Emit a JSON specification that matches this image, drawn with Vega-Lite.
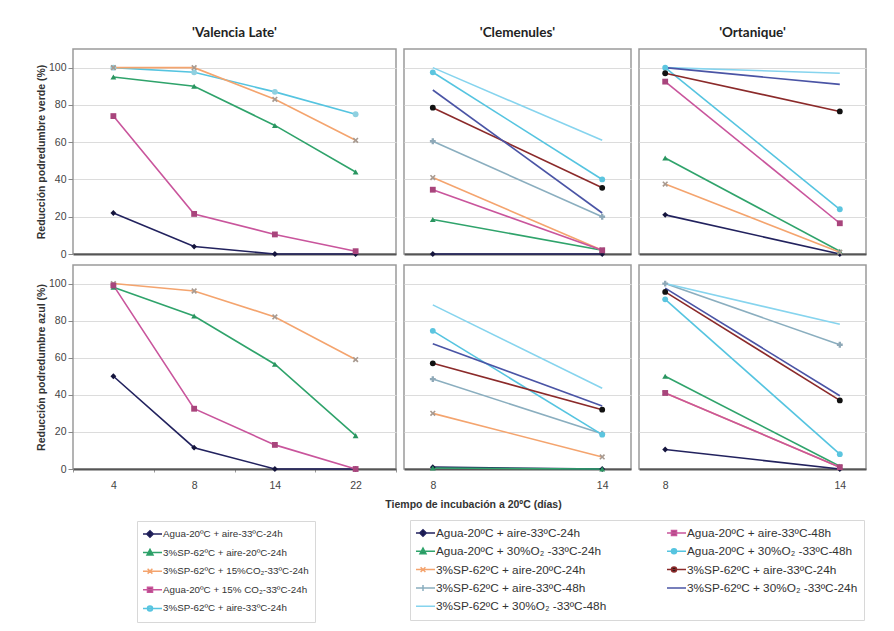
{
  "$schema": "https://vega.github.io/schema/vega-lite/v6.json",
  "padding": {"left": 35, "top": 24, "right": 5, "bottom": 5},
  "background": "white",
  "bounds": "flush",
  "columns": 3,
  "spacing": {"row": 11, "column": 8},
  "config": {
    "font": "Liberation Sans",
    "view": {"stroke": "#9a9a9a", "strokeWidth": 1.5},
    "axis": {"gridColor": "#dcdcdc", "gridWidth": 1, "labelFont": "Liberation Sans", "labelColor": "#444", "labelFontSize": 10.5, "titleFont": "Liberation Sans", "titleColor": "#333", "domainColor": "#555", "tickColor": "#888"},
    "axisY": {"domain": false, "grid": true, "tickSize": 5, "labelPadding": 2, "titleFontWeight": "bold", "titleFontSize": 10.5, "titlePadding": 2},
    "axisX": {"domainColor": "#555", "domainWidth": 2, "labelAngle": 0, "grid": false},
    "title": {"font": "Lato", "fontSize": 13.5, "fontWeight": "bold", "color": "#222", "offset": 10},
    "legend": {"labelFont": "Liberation Sans", "labelColor": "#333", "labelLimit": 400, "symbolSize": 144, "symbolStrokeWidth": 1.5, "labelOffset": 6, "padding": 6, "strokeColor": "#d8d8d8", "clipHeight": 14}
  },
  "datasets": {
    "vl_verde": [
      {"serie": "Agua-20ºC + aire-33ºC-24h", "dias": 4, "valor": 22},
      {"serie": "Agua-20ºC + aire-33ºC-24h", "dias": 8, "valor": 4},
      {"serie": "Agua-20ºC + aire-33ºC-24h", "dias": 14, "valor": 0},
      {"serie": "Agua-20ºC + aire-33ºC-24h", "dias": 22, "valor": 0},
      {"serie": "3%SP-62ºC + aire-20ºC-24h", "dias": 4, "valor": 95},
      {"serie": "3%SP-62ºC + aire-20ºC-24h", "dias": 8, "valor": 90},
      {"serie": "3%SP-62ºC + aire-20ºC-24h", "dias": 14, "valor": 69},
      {"serie": "3%SP-62ºC + aire-20ºC-24h", "dias": 22, "valor": 44},
      {"serie": "3%SP-62ºC + aire-33ºC-24h", "dias": 4, "valor": 100},
      {"serie": "3%SP-62ºC + aire-33ºC-24h", "dias": 8, "valor": 97.5},
      {"serie": "3%SP-62ºC + aire-33ºC-24h", "dias": 14, "valor": 87},
      {"serie": "3%SP-62ºC + aire-33ºC-24h", "dias": 22, "valor": 75},
      {"serie": "3%SP-62ºC + 15%CO₂-33ºC-24h", "dias": 4, "valor": 100},
      {"serie": "3%SP-62ºC + 15%CO₂-33ºC-24h", "dias": 8, "valor": 100},
      {"serie": "3%SP-62ºC + 15%CO₂-33ºC-24h", "dias": 14, "valor": 83},
      {"serie": "3%SP-62ºC + 15%CO₂-33ºC-24h", "dias": 22, "valor": 61},
      {"serie": "Agua-20ºC + 15% CO₂-33ºC-24h", "dias": 4, "valor": 74},
      {"serie": "Agua-20ºC + 15% CO₂-33ºC-24h", "dias": 8, "valor": 21.5},
      {"serie": "Agua-20ºC + 15% CO₂-33ºC-24h", "dias": 14, "valor": 10.5},
      {"serie": "Agua-20ºC + 15% CO₂-33ºC-24h", "dias": 22, "valor": 1.5}
    ],
    "vl_azul": [
      {"serie": "Agua-20ºC + aire-33ºC-24h", "dias": 4, "valor": 50},
      {"serie": "Agua-20ºC + aire-33ºC-24h", "dias": 8, "valor": 11.5},
      {"serie": "Agua-20ºC + aire-33ºC-24h", "dias": 14, "valor": 0},
      {"serie": "Agua-20ºC + aire-33ºC-24h", "dias": 22, "valor": 0},
      {"serie": "3%SP-62ºC + aire-20ºC-24h", "dias": 4, "valor": 98},
      {"serie": "3%SP-62ºC + aire-20ºC-24h", "dias": 8, "valor": 82.5},
      {"serie": "3%SP-62ºC + aire-20ºC-24h", "dias": 14, "valor": 56.5},
      {"serie": "3%SP-62ºC + aire-20ºC-24h", "dias": 22, "valor": 18},
      {"serie": "3%SP-62ºC + 15%CO₂-33ºC-24h", "dias": 4, "valor": 100},
      {"serie": "3%SP-62ºC + 15%CO₂-33ºC-24h", "dias": 8, "valor": 96},
      {"serie": "3%SP-62ºC + 15%CO₂-33ºC-24h", "dias": 14, "valor": 82},
      {"serie": "3%SP-62ºC + 15%CO₂-33ºC-24h", "dias": 22, "valor": 59},
      {"serie": "Agua-20ºC + 15% CO₂-33ºC-24h", "dias": 4, "valor": 99},
      {"serie": "Agua-20ºC + 15% CO₂-33ºC-24h", "dias": 8, "valor": 32.5},
      {"serie": "Agua-20ºC + 15% CO₂-33ºC-24h", "dias": 14, "valor": 13},
      {"serie": "Agua-20ºC + 15% CO₂-33ºC-24h", "dias": 22, "valor": 0}
    ],
    "cl_verde": [
      {"serie": "Agua-20ºC + aire-33ºC-24h", "dias": 8, "valor": 0},
      {"serie": "Agua-20ºC + aire-33ºC-24h", "dias": 14, "valor": 0},
      {"serie": "Agua-20ºC + 30%O₂ -33ºC-24h", "dias": 8, "valor": 18.5},
      {"serie": "Agua-20ºC + 30%O₂ -33ºC-24h", "dias": 14, "valor": 2},
      {"serie": "3%SP-62ºC + aire-20ºC-24h", "dias": 8, "valor": 41},
      {"serie": "3%SP-62ºC + aire-20ºC-24h", "dias": 14, "valor": 2},
      {"serie": "3%SP-62ºC + aire-33ºC-48h", "dias": 8, "valor": 60.5},
      {"serie": "3%SP-62ºC + aire-33ºC-48h", "dias": 14, "valor": 20},
      {"serie": "3%SP-62ºC + 30%O₂ -33ºC-48h", "dias": 8, "valor": 100},
      {"serie": "3%SP-62ºC + 30%O₂ -33ºC-48h", "dias": 14, "valor": 61},
      {"serie": "Agua-20ºC + aire-33ºC-48h", "dias": 8, "valor": 34.5},
      {"serie": "Agua-20ºC + aire-33ºC-48h", "dias": 14, "valor": 2},
      {"serie": "Agua-20ºC + 30%O₂ -33ºC-48h", "dias": 8, "valor": 97.5},
      {"serie": "Agua-20ºC + 30%O₂ -33ºC-48h", "dias": 14, "valor": 40},
      {"serie": "3%SP-62ºC + aire-33ºC-24h", "dias": 8, "valor": 78.5},
      {"serie": "3%SP-62ºC + aire-33ºC-24h", "dias": 14, "valor": 35.5},
      {"serie": "3%SP-62ºC + 30%O₂ -33ºC-24h", "dias": 8, "valor": 88},
      {"serie": "3%SP-62ºC + 30%O₂ -33ºC-24h", "dias": 14, "valor": 22}
    ],
    "or_verde": [
      {"serie": "Agua-20ºC + aire-33ºC-24h", "dias": 8, "valor": 21},
      {"serie": "Agua-20ºC + aire-33ºC-24h", "dias": 14, "valor": 0},
      {"serie": "Agua-20ºC + 30%O₂ -33ºC-24h", "dias": 8, "valor": 51.5},
      {"serie": "Agua-20ºC + 30%O₂ -33ºC-24h", "dias": 14, "valor": 1.5},
      {"serie": "3%SP-62ºC + aire-20ºC-24h", "dias": 8, "valor": 37.5},
      {"serie": "3%SP-62ºC + aire-20ºC-24h", "dias": 14, "valor": 1},
      {"serie": "3%SP-62ºC + 30%O₂ -33ºC-48h", "dias": 8, "valor": 100},
      {"serie": "3%SP-62ºC + 30%O₂ -33ºC-48h", "dias": 14, "valor": 97},
      {"serie": "Agua-20ºC + aire-33ºC-48h", "dias": 8, "valor": 92.5},
      {"serie": "Agua-20ºC + aire-33ºC-48h", "dias": 14, "valor": 16.5},
      {"serie": "Agua-20ºC + 30%O₂ -33ºC-48h", "dias": 8, "valor": 100},
      {"serie": "Agua-20ºC + 30%O₂ -33ºC-48h", "dias": 14, "valor": 24},
      {"serie": "3%SP-62ºC + aire-33ºC-24h", "dias": 8, "valor": 97},
      {"serie": "3%SP-62ºC + aire-33ºC-24h", "dias": 14, "valor": 76.5},
      {"serie": "3%SP-62ºC + 30%O₂ -33ºC-24h", "dias": 8, "valor": 100},
      {"serie": "3%SP-62ºC + 30%O₂ -33ºC-24h", "dias": 14, "valor": 91}
    ],
    "cl_azul": [
      {"serie": "Agua-20ºC + aire-33ºC-24h", "dias": 8, "valor": 1},
      {"serie": "Agua-20ºC + aire-33ºC-24h", "dias": 14, "valor": 0},
      {"serie": "Agua-20ºC + 30%O₂ -33ºC-24h", "dias": 8, "valor": 0.5},
      {"serie": "Agua-20ºC + 30%O₂ -33ºC-24h", "dias": 14, "valor": 0},
      {"serie": "3%SP-62ºC + aire-20ºC-24h", "dias": 8, "valor": 30},
      {"serie": "3%SP-62ºC + aire-20ºC-24h", "dias": 14, "valor": 6.5},
      {"serie": "3%SP-62ºC + aire-33ºC-48h", "dias": 8, "valor": 48.5},
      {"serie": "3%SP-62ºC + aire-33ºC-48h", "dias": 14, "valor": 19},
      {"serie": "3%SP-62ºC + 30%O₂ -33ºC-48h", "dias": 8, "valor": 88.5},
      {"serie": "3%SP-62ºC + 30%O₂ -33ºC-48h", "dias": 14, "valor": 43.5},
      {"serie": "Agua-20ºC + 30%O₂ -33ºC-48h", "dias": 8, "valor": 74.5},
      {"serie": "Agua-20ºC + 30%O₂ -33ºC-48h", "dias": 14, "valor": 18.5},
      {"serie": "3%SP-62ºC + aire-33ºC-24h", "dias": 8, "valor": 57},
      {"serie": "3%SP-62ºC + aire-33ºC-24h", "dias": 14, "valor": 32},
      {"serie": "3%SP-62ºC + 30%O₂ -33ºC-24h", "dias": 8, "valor": 67.5},
      {"serie": "3%SP-62ºC + 30%O₂ -33ºC-24h", "dias": 14, "valor": 34}
    ],
    "or_azul": [
      {"serie": "Agua-20ºC + aire-33ºC-24h", "dias": 8, "valor": 10.5},
      {"serie": "Agua-20ºC + aire-33ºC-24h", "dias": 14, "valor": 0},
      {"serie": "Agua-20ºC + 30%O₂ -33ºC-24h", "dias": 8, "valor": 50},
      {"serie": "Agua-20ºC + 30%O₂ -33ºC-24h", "dias": 14, "valor": 1.5},
      {"serie": "3%SP-62ºC + aire-20ºC-24h", "dias": 8, "valor": 41},
      {"serie": "3%SP-62ºC + aire-20ºC-24h", "dias": 14, "valor": 1},
      {"serie": "3%SP-62ºC + aire-33ºC-48h", "dias": 8, "valor": 100},
      {"serie": "3%SP-62ºC + aire-33ºC-48h", "dias": 14, "valor": 67},
      {"serie": "3%SP-62ºC + 30%O₂ -33ºC-48h", "dias": 8, "valor": 100},
      {"serie": "3%SP-62ºC + 30%O₂ -33ºC-48h", "dias": 14, "valor": 78},
      {"serie": "Agua-20ºC + aire-33ºC-48h", "dias": 8, "valor": 41},
      {"serie": "Agua-20ºC + aire-33ºC-48h", "dias": 14, "valor": 1},
      {"serie": "Agua-20ºC + 30%O₂ -33ºC-48h", "dias": 8, "valor": 91.5},
      {"serie": "Agua-20ºC + 30%O₂ -33ºC-48h", "dias": 14, "valor": 8},
      {"serie": "3%SP-62ºC + aire-33ºC-24h", "dias": 8, "valor": 95.5},
      {"serie": "3%SP-62ºC + aire-33ºC-24h", "dias": 14, "valor": 37},
      {"serie": "3%SP-62ºC + 30%O₂ -33ºC-24h", "dias": 8, "valor": 97.5},
      {"serie": "3%SP-62ºC + 30%O₂ -33ºC-24h", "dias": 14, "valor": 39.5}
    ]
  },
  "resolve": {
    "scale": {"x": "independent", "y": "independent", "color": "independent", "fill": "independent", "shape": "independent"},
    "axis": {"x": "independent", "y": "independent"},
    "legend": {"color": "independent", "fill": "independent", "shape": "independent"}
  },
  "concat": [
    {
      "data": {"name": "vl_verde"},
      "title": "'Valencia Late'",
      "width": 323, "height": 205,
      "encoding": {
        "x": {"field": "dias", "type": "ordinal", "scale": {"type": "band", "domain": [4, 8, 14, 22], "paddingInner": 0, "paddingOuter": 0}, "axis": {"labels": false, "ticks": false, "title": null}},
        "y": {"field": "valor", "type": "quantitative", "scale": {"domain": [0, 110], "nice": false}, "axis": {"values": [0, 20, 40, 60, 80, 100], "title": "Reducción podredumbre verde (%)"}}
      },
      "layer": [
        {"mark": {"type": "line", "strokeWidth": 1.6}, "encoding": {"color": {"field": "serie", "type": "nominal", "scale": {"domain": ["Agua-20ºC + aire-33ºC-24h", "3%SP-62ºC + aire-20ºC-24h", "3%SP-62ºC + 15%CO₂-33ºC-24h", "Agua-20ºC + 15% CO₂-33ºC-24h", "3%SP-62ºC + aire-33ºC-24h"], "range": ["#22225e", "#2fa36b", "#f4a46e", "#c9559c", "#55c4e0"]}, "legend": null}}},
        {"mark": {"type": "point", "filled": true, "size": 34, "opacity": 1}, "encoding": {
          "fill": {"field": "serie", "type": "nominal", "scale": {"domain": ["3%SP-62ºC + aire-33ºC-24h", "Agua-20ºC + 15% CO₂-33ºC-24h", "3%SP-62ºC + 15%CO₂-33ºC-24h", "3%SP-62ºC + aire-20ºC-24h", "Agua-20ºC + aire-33ºC-24h"], "range": ["#8fd0e0", "#a8457c", "#a89a90", "#2a9560", "#15153d"]}, "legend": null},
          "shape": {"field": "serie", "type": "nominal", "scale": {"domain": ["3%SP-62ºC + aire-33ºC-24h", "Agua-20ºC + 15% CO₂-33ºC-24h", "3%SP-62ºC + 15%CO₂-33ºC-24h", "3%SP-62ºC + aire-20ºC-24h", "Agua-20ºC + aire-33ºC-24h"], "range": ["circle", "square", "M-1,-0.6L-0.6,-1L0,-0.4L0.6,-1L1,-0.6L0.4,0L1,0.6L0.6,1L0,0.4L-0.6,1L-1,0.6L-0.4,0Z", "triangle-up", "diamond"]}, "legend": null}
        }}
      ]
    },
    {
      "data": {"name": "cl_verde"},
      "title": "'Clemenules'",
      "width": 227, "height": 205,
      "encoding": {
        "x": {"field": "dias", "type": "ordinal", "scale": {"type": "point", "domain": [8, 14], "padding": 0.17}, "axis": {"labels": false, "ticks": false, "title": null}},
        "y": {"field": "valor", "type": "quantitative", "scale": {"domain": [0, 110], "nice": false}, "axis": {"values": [0, 20, 40, 60, 80, 100], "labels": false, "ticks": false, "title": null}}
      },
      "layer": [
        {"mark": {"type": "line", "strokeWidth": 1.6}, "encoding": {"color": {"field": "serie", "type": "nominal", "scale": {"domain": ["Agua-20ºC + aire-33ºC-24h", "Agua-20ºC + 30%O₂ -33ºC-24h", "3%SP-62ºC + aire-20ºC-24h", "3%SP-62ºC + aire-33ºC-48h", "3%SP-62ºC + 30%O₂ -33ºC-48h", "Agua-20ºC + aire-33ºC-48h", "Agua-20ºC + 30%O₂ -33ºC-48h", "3%SP-62ºC + aire-33ºC-24h", "3%SP-62ºC + 30%O₂ -33ºC-24h"], "range": ["#22225e", "#2fa36b", "#f4a46e", "#8aaebf", "#86d4ee", "#c9559c", "#55c4e0", "#8b2a2a", "#4a54a5"]}, "legend": null}}},
        {"mark": {"type": "point", "filled": true, "size": 34, "opacity": 1}, "encoding": {
          "fill": {"field": "serie", "type": "nominal", "scale": {"domain": ["3%SP-62ºC + 30%O₂ -33ºC-24h", "3%SP-62ºC + aire-33ºC-24h", "Agua-20ºC + 30%O₂ -33ºC-48h", "Agua-20ºC + aire-33ºC-48h", "3%SP-62ºC + 30%O₂ -33ºC-48h", "3%SP-62ºC + aire-33ºC-48h", "3%SP-62ºC + aire-20ºC-24h", "Agua-20ºC + 30%O₂ -33ºC-24h", "Agua-20ºC + aire-33ºC-24h"], "range": ["#4a54a5", "#111111", "#5cc5df", "#a8457c", "#86d4ee", "#8fa9b8", "#a89a90", "#2a9560", "#15153d"]}, "legend": null},
          "shape": {"field": "serie", "type": "nominal", "scale": {"domain": ["3%SP-62ºC + 30%O₂ -33ºC-24h", "3%SP-62ºC + aire-33ºC-24h", "Agua-20ºC + 30%O₂ -33ºC-48h", "Agua-20ºC + aire-33ºC-48h", "3%SP-62ºC + 30%O₂ -33ºC-48h", "3%SP-62ºC + aire-33ºC-48h", "3%SP-62ºC + aire-20ºC-24h", "Agua-20ºC + 30%O₂ -33ºC-24h", "Agua-20ºC + aire-33ºC-24h"], "range": ["M0,0", "circle", "circle", "square", "M0,0", "cross", "M-1,-0.6L-0.6,-1L0,-0.4L0.6,-1L1,-0.6L0.4,0L1,0.6L0.6,1L0,0.4L-0.6,1L-1,0.6L-0.4,0Z", "triangle-up", "diamond"]}, "legend": null}
        }}
      ]
    },
    {
      "data": {"name": "or_verde"},
      "title": "'Ortanique'",
      "width": 227, "height": 205,
      "encoding": {
        "x": {"field": "dias", "type": "ordinal", "scale": {"type": "point", "domain": [8, 14], "padding": 0.15}, "axis": {"labels": false, "ticks": false, "title": null}},
        "y": {"field": "valor", "type": "quantitative", "scale": {"domain": [0, 110], "nice": false}, "axis": {"values": [0, 20, 40, 60, 80, 100], "labels": false, "ticks": false, "title": null}}
      },
      "layer": [
        {"mark": {"type": "line", "strokeWidth": 1.6}, "encoding": {"color": {"field": "serie", "type": "nominal", "scale": {"domain": ["Agua-20ºC + aire-33ºC-24h", "Agua-20ºC + 30%O₂ -33ºC-24h", "3%SP-62ºC + aire-20ºC-24h", "3%SP-62ºC + aire-33ºC-48h", "3%SP-62ºC + 30%O₂ -33ºC-48h", "Agua-20ºC + aire-33ºC-48h", "Agua-20ºC + 30%O₂ -33ºC-48h", "3%SP-62ºC + aire-33ºC-24h", "3%SP-62ºC + 30%O₂ -33ºC-24h"], "range": ["#22225e", "#2fa36b", "#f4a46e", "#8aaebf", "#86d4ee", "#c9559c", "#55c4e0", "#8b2a2a", "#4a54a5"]}, "legend": null}}},
        {"mark": {"type": "point", "filled": true, "size": 34, "opacity": 1}, "encoding": {
          "fill": {"field": "serie", "type": "nominal", "scale": {"domain": ["3%SP-62ºC + 30%O₂ -33ºC-24h", "3%SP-62ºC + aire-33ºC-24h", "Agua-20ºC + 30%O₂ -33ºC-48h", "Agua-20ºC + aire-33ºC-48h", "3%SP-62ºC + 30%O₂ -33ºC-48h", "3%SP-62ºC + aire-33ºC-48h", "3%SP-62ºC + aire-20ºC-24h", "Agua-20ºC + 30%O₂ -33ºC-24h", "Agua-20ºC + aire-33ºC-24h"], "range": ["#4a54a5", "#111111", "#5cc5df", "#a8457c", "#86d4ee", "#8fa9b8", "#a89a90", "#2a9560", "#15153d"]}, "legend": null},
          "shape": {"field": "serie", "type": "nominal", "scale": {"domain": ["3%SP-62ºC + 30%O₂ -33ºC-24h", "3%SP-62ºC + aire-33ºC-24h", "Agua-20ºC + 30%O₂ -33ºC-48h", "Agua-20ºC + aire-33ºC-48h", "3%SP-62ºC + 30%O₂ -33ºC-48h", "3%SP-62ºC + aire-33ºC-48h", "3%SP-62ºC + aire-20ºC-24h", "Agua-20ºC + 30%O₂ -33ºC-24h", "Agua-20ºC + aire-33ºC-24h"], "range": ["M0,0", "circle", "circle", "square", "M0,0", "cross", "M-1,-0.6L-0.6,-1L0,-0.4L0.6,-1L1,-0.6L0.4,0L1,0.6L0.6,1L0,0.4L-0.6,1L-1,0.6L-0.4,0Z", "triangle-up", "diamond"]}, "legend": null}
        }}
      ]
    },
    {
      "data": {"name": "vl_azul"},
      "width": 323, "height": 204,
      "encoding": {
        "x": {"field": "dias", "type": "ordinal", "scale": {"type": "band", "domain": [4, 8, 14, 22], "paddingInner": 0, "paddingOuter": 0}, "axis": {"tickBand": "extent", "ticks": true, "tickSize": 3, "tickColor": "#999", "labelPadding": 8, "title": null}},
        "y": {"field": "valor", "type": "quantitative", "scale": {"domain": [0, 110], "nice": false}, "axis": {"values": [0, 20, 40, 60, 80, 100], "title": "Reducción podredumbre azul (%)"}}
      },
      "layer": [
        {"mark": {"type": "line", "strokeWidth": 1.6}, "encoding": {"color": {"field": "serie", "type": "nominal", "scale": {"domain": ["Agua-20ºC + aire-33ºC-24h", "3%SP-62ºC + aire-20ºC-24h", "3%SP-62ºC + 15%CO₂-33ºC-24h", "Agua-20ºC + 15% CO₂-33ºC-24h", "3%SP-62ºC + aire-33ºC-24h"], "range": ["#22225e", "#2fa36b", "#f4a46e", "#c9559c", "#55c4e0"]},
          "legend": {"orient": "none", "legendX": 64, "legendY": 256, "direction": "vertical", "columns": 1, "title": null, "labelFontSize": 9.8, "rowPadding": 4.6,
            "encode": {"symbols": {"update": {
              "shape": {"signal": "['M-2,0H2M0,-0.55L0.55,0L0,0.55L-0.55,0Z','M-2,0H2M0,-0.55L0.5,0.4L-0.5,0.4Z','M-2,0H2M-0.4,-0.4L0.4,0.4M0.4,-0.4L-0.4,0.4','M-2,0H2M-0.42,-0.42H0.42V0.42H-0.42Z','M-2,0H2M0.42,0A0.42,0.42,0,1,1,-0.42,0A0.42,0.42,0,1,1,0.42,0Z'][indexof(['Agua-20ºC + aire-33ºC-24h','3%SP-62ºC + aire-20ºC-24h','3%SP-62ºC + 15%CO₂-33ºC-24h','Agua-20ºC + 15% CO₂-33ºC-24h','3%SP-62ºC + aire-33ºC-24h'], datum.value)]"},
              "fill": {"signal": "['#15153d','#2a9560','#a89a90','#a8457c','#7ccde0'][indexof(['Agua-20ºC + aire-33ºC-24h','3%SP-62ºC + aire-20ºC-24h','3%SP-62ºC + 15%CO₂-33ºC-24h','Agua-20ºC + 15% CO₂-33ºC-24h','3%SP-62ºC + aire-33ºC-24h'], datum.value)]"}
            }}}
          }}}},
        {"mark": {"type": "point", "filled": true, "size": 34, "opacity": 1}, "encoding": {
          "fill": {"field": "serie", "type": "nominal", "scale": {"domain": ["3%SP-62ºC + aire-33ºC-24h", "Agua-20ºC + 15% CO₂-33ºC-24h", "3%SP-62ºC + 15%CO₂-33ºC-24h", "3%SP-62ºC + aire-20ºC-24h", "Agua-20ºC + aire-33ºC-24h"], "range": ["#8fd0e0", "#a8457c", "#a89a90", "#2a9560", "#15153d"]}, "legend": null},
          "shape": {"field": "serie", "type": "nominal", "scale": {"domain": ["3%SP-62ºC + aire-33ºC-24h", "Agua-20ºC + 15% CO₂-33ºC-24h", "3%SP-62ºC + 15%CO₂-33ºC-24h", "3%SP-62ºC + aire-20ºC-24h", "Agua-20ºC + aire-33ºC-24h"], "range": ["circle", "square", "M-1,-0.6L-0.6,-1L0,-0.4L0.6,-1L1,-0.6L0.4,0L1,0.6L0.6,1L0,0.4L-0.6,1L-1,0.6L-0.4,0Z", "triangle-up", "diamond"]}, "legend": null}
        }}
      ]
    },
    {
      "data": {"name": "cl_azul"},
      "width": 227, "height": 204,
      "encoding": {
        "x": {"field": "dias", "type": "ordinal", "scale": {"type": "point", "domain": [8, 14], "padding": 0.17}, "axis": {"ticks": true, "tickSize": 0, "labelPadding": 11, "title": "Tiempo de incubación a 20ºC (días)", "titleX": 69, "titleY": 35, "titleAlign": "center", "titleBaseline": "middle", "titleFontWeight": "bold", "titleFontSize": 10.5}},
        "y": {"field": "valor", "type": "quantitative", "scale": {"domain": [0, 110], "nice": false}, "axis": {"values": [0, 20, 40, 60, 80, 100], "labels": false, "ticks": false, "title": null}}
      },
      "layer": [
        {"mark": {"type": "line", "strokeWidth": 1.6}, "encoding": {"color": {"field": "serie", "type": "nominal", "scale": {"domain": ["Agua-20ºC + aire-33ºC-24h", "Agua-20ºC + 30%O₂ -33ºC-24h", "3%SP-62ºC + aire-20ºC-24h", "3%SP-62ºC + aire-33ºC-48h", "3%SP-62ºC + 30%O₂ -33ºC-48h", "Agua-20ºC + aire-33ºC-48h", "Agua-20ºC + 30%O₂ -33ºC-48h", "3%SP-62ºC + aire-33ºC-24h", "3%SP-62ºC + 30%O₂ -33ºC-24h"], "range": ["#22225e", "#2fa36b", "#f4a46e", "#8aaebf", "#86d4ee", "#c9559c", "#55c4e0", "#8b2a2a", "#4a54a5"]},
          "legend": {"orient": "none", "legendX": 6, "legendY": 255, "direction": "vertical", "columns": 2, "columnPadding": 60, "title": null, "labelFontSize": 11.8, "rowPadding": 4.3,
            "encode": {"symbols": {"update": {
              "shape": {"signal": "['M-2,0H2M0,-0.55L0.55,0L0,0.55L-0.55,0Z','M-2,0H2M0,-0.55L0.5,0.4L-0.5,0.4Z','M-2,0H2M-0.4,-0.4L0.4,0.4M0.4,-0.4L-0.4,0.4','M-2,0H2M0,-0.5V0.5','M-2,0H2','M-2,0H2M-0.42,-0.42H0.42V0.42H-0.42Z','M-2,0H2M0.42,0A0.42,0.42,0,1,1,-0.42,0A0.42,0.42,0,1,1,0.42,0Z','M-2,0H2M0.42,0A0.42,0.42,0,1,1,-0.42,0A0.42,0.42,0,1,1,0.42,0Z','M-2,0H2'][indexof(['Agua-20ºC + aire-33ºC-24h','Agua-20ºC + 30%O₂ -33ºC-24h','3%SP-62ºC + aire-20ºC-24h','3%SP-62ºC + aire-33ºC-48h','3%SP-62ºC + 30%O₂ -33ºC-48h','Agua-20ºC + aire-33ºC-48h','Agua-20ºC + 30%O₂ -33ºC-48h','3%SP-62ºC + aire-33ºC-24h','3%SP-62ºC + 30%O₂ -33ºC-24h'], datum.value)]"},
              "fill": {"signal": "['#15153d','#2a9560','#a89a90','#8fa9b8','#86d4ee','#a8457c','#5cc5df','#111111','#4a54a5'][indexof(['Agua-20ºC + aire-33ºC-24h','Agua-20ºC + 30%O₂ -33ºC-24h','3%SP-62ºC + aire-20ºC-24h','3%SP-62ºC + aire-33ºC-48h','3%SP-62ºC + 30%O₂ -33ºC-48h','Agua-20ºC + aire-33ºC-48h','Agua-20ºC + 30%O₂ -33ºC-48h','3%SP-62ºC + aire-33ºC-24h','3%SP-62ºC + 30%O₂ -33ºC-24h'], datum.value)]"}
            }}}
          }}}},
        {"mark": {"type": "point", "filled": true, "size": 34, "opacity": 1}, "encoding": {
          "fill": {"field": "serie", "type": "nominal", "scale": {"domain": ["3%SP-62ºC + 30%O₂ -33ºC-24h", "3%SP-62ºC + aire-33ºC-24h", "Agua-20ºC + 30%O₂ -33ºC-48h", "Agua-20ºC + aire-33ºC-48h", "3%SP-62ºC + 30%O₂ -33ºC-48h", "3%SP-62ºC + aire-33ºC-48h", "3%SP-62ºC + aire-20ºC-24h", "Agua-20ºC + 30%O₂ -33ºC-24h", "Agua-20ºC + aire-33ºC-24h"], "range": ["#4a54a5", "#111111", "#5cc5df", "#a8457c", "#86d4ee", "#8fa9b8", "#a89a90", "#2a9560", "#15153d"]}, "legend": null},
          "shape": {"field": "serie", "type": "nominal", "scale": {"domain": ["3%SP-62ºC + 30%O₂ -33ºC-24h", "3%SP-62ºC + aire-33ºC-24h", "Agua-20ºC + 30%O₂ -33ºC-48h", "Agua-20ºC + aire-33ºC-48h", "3%SP-62ºC + 30%O₂ -33ºC-48h", "3%SP-62ºC + aire-33ºC-48h", "3%SP-62ºC + aire-20ºC-24h", "Agua-20ºC + 30%O₂ -33ºC-24h", "Agua-20ºC + aire-33ºC-24h"], "range": ["M0,0", "circle", "circle", "square", "M0,0", "cross", "M-1,-0.6L-0.6,-1L0,-0.4L0.6,-1L1,-0.6L0.4,0L1,0.6L0.6,1L0,0.4L-0.6,1L-1,0.6L-0.4,0Z", "triangle-up", "diamond"]}, "legend": null}
        }}
      ]
    },
    {
      "data": {"name": "or_azul"},
      "width": 227, "height": 204,
      "encoding": {
        "x": {"field": "dias", "type": "ordinal", "scale": {"type": "point", "domain": [8, 14], "padding": 0.15}, "axis": {"ticks": true, "tickSize": 0, "labelPadding": 11, "title": null}},
        "y": {"field": "valor", "type": "quantitative", "scale": {"domain": [0, 110], "nice": false}, "axis": {"values": [0, 20, 40, 60, 80, 100], "labels": false, "ticks": false, "title": null}}
      },
      "layer": [
        {"mark": {"type": "line", "strokeWidth": 1.6}, "encoding": {"color": {"field": "serie", "type": "nominal", "scale": {"domain": ["Agua-20ºC + aire-33ºC-24h", "Agua-20ºC + 30%O₂ -33ºC-24h", "3%SP-62ºC + aire-20ºC-24h", "3%SP-62ºC + aire-33ºC-48h", "3%SP-62ºC + 30%O₂ -33ºC-48h", "Agua-20ºC + aire-33ºC-48h", "Agua-20ºC + 30%O₂ -33ºC-48h", "3%SP-62ºC + aire-33ºC-24h", "3%SP-62ºC + 30%O₂ -33ºC-24h"], "range": ["#22225e", "#2fa36b", "#f4a46e", "#8aaebf", "#86d4ee", "#c9559c", "#55c4e0", "#8b2a2a", "#4a54a5"]}, "legend": null}}},
        {"mark": {"type": "point", "filled": true, "size": 34, "opacity": 1}, "encoding": {
          "fill": {"field": "serie", "type": "nominal", "scale": {"domain": ["3%SP-62ºC + 30%O₂ -33ºC-24h", "3%SP-62ºC + aire-33ºC-24h", "Agua-20ºC + 30%O₂ -33ºC-48h", "Agua-20ºC + aire-33ºC-48h", "3%SP-62ºC + 30%O₂ -33ºC-48h", "3%SP-62ºC + aire-33ºC-48h", "3%SP-62ºC + aire-20ºC-24h", "Agua-20ºC + 30%O₂ -33ºC-24h", "Agua-20ºC + aire-33ºC-24h"], "range": ["#4a54a5", "#111111", "#5cc5df", "#a8457c", "#86d4ee", "#8fa9b8", "#a89a90", "#2a9560", "#15153d"]}, "legend": null},
          "shape": {"field": "serie", "type": "nominal", "scale": {"domain": ["3%SP-62ºC + 30%O₂ -33ºC-24h", "3%SP-62ºC + aire-33ºC-24h", "Agua-20ºC + 30%O₂ -33ºC-48h", "Agua-20ºC + aire-33ºC-48h", "3%SP-62ºC + 30%O₂ -33ºC-48h", "3%SP-62ºC + aire-33ºC-48h", "3%SP-62ºC + aire-20ºC-24h", "Agua-20ºC + 30%O₂ -33ºC-24h", "Agua-20ºC + aire-33ºC-24h"], "range": ["M0,0", "circle", "circle", "square", "M0,0", "cross", "M-1,-0.6L-0.6,-1L0,-0.4L0.6,-1L1,-0.6L0.4,0L1,0.6L0.6,1L0,0.4L-0.6,1L-1,0.6L-0.4,0Z", "triangle-up", "diamond"]}, "legend": null}
        }}
      ]
    }
  ]
}
